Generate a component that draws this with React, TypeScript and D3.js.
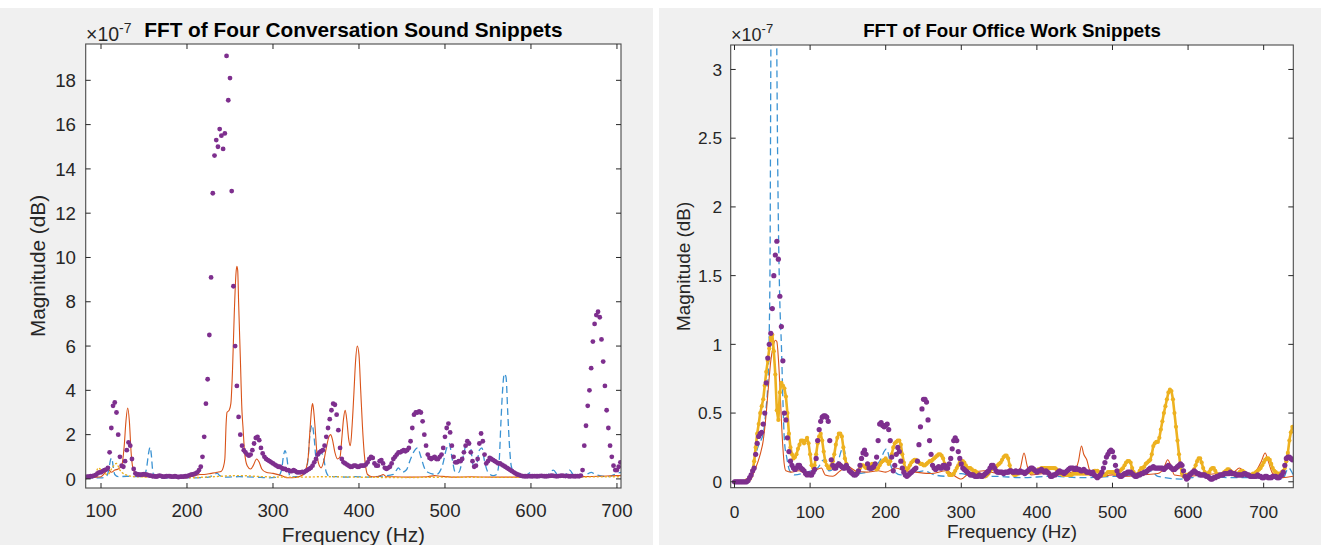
import React from 'react';
import * as d3 from 'd3';

const FONT = '"Liberation Sans", Arial, Helvetica, sans-serif';
const AXIS_COLOR = '#262626';
const BLUE = '#3B93D3';
const ORANGE = '#D95319';
const YELLOW = '#EDB120';
const PURPLE = '#7E2F8E';

type Pt = [number, number];

// ---------- Conversation sound snippets (values ×10^-7) ----------
const convFreqTicks = [100, 200, 300, 400, 500, 600, 700];
const convMagTicks = [0, 2, 4, 6, 8, 10, 12, 14, 16, 18];

const convBlue: Pt[] = [
  [82, 0.05], [100, 0.05], [106, 0.1], [109, 0.4], [111, 0.85], [112.5, 0.95], [114, 0.6], [116, 0.2],
  [120, 0.1], [130, 0.12], [140, 0.1], [150, 0.12], [153, 0.5], [155.5, 1.2], [157, 1.43], [158.5, 1.1],
  [160, 0.4], [162, 0.12], [170, 0.05], [190, 0.06], [210, 0.05], [225, 0.08], [232, 0.2], [235, 0.26],
  [238, 0.15], [245, 0.08], [260, 0.1], [280, 0.08], [295, 0.05], [305, 0.08], [310, 0.4], [312, 1.0],
  [314, 1.28], [316, 1.0], [318, 0.4], [320, 0.1], [330, 0.1], [338, 0.3], [341, 1.0], [343, 2.0],
  [345.5, 2.45], [348, 1.8], [350, 1.0], [353, 1.0], [356, 1.2], [359, 0.9], [362, 0.3], [366, 0.1],
  [375, 0.1], [385, 0.08], [395, 0.1], [410, 0.08], [425, 0.12], [440, 0.2], [446, 0.5], [450, 0.3],
  [455, 0.4], [460, 0.9], [465, 1.3], [468, 1.4], [472, 1.0], [476, 0.5], [480, 0.3], [490, 0.2],
  [497, 0.6], [502, 1.4], [505, 1.6], [508, 1.0], [512, 0.3], [516, 0.3], [520, 0.8], [524, 1.5],
  [527, 1.75], [530, 1.4], [533, 0.6], [537, 0.7], [540, 1.3], [543, 1.4], [546, 0.8], [550, 0.3],
  [556, 0.15], [560, 0.2], [563, 0.8], [565, 2.5], [567, 4.0], [569, 4.75], [571, 4.6], [573, 3.0],
  [575, 1.5], [577, 0.6], [580, 0.3], [585, 0.15], [592, 0.1], [600, 0.3], [605, 0.1], [615, 0.1],
  [620, 0.2], [626, 0.4], [632, 0.15], [640, 0.2], [645, 0.4], [650, 0.15], [660, 0.1], [670, 0.3],
  [675, 0.2], [690, 0.1], [700, 0.25], [705, 0.3],
];

const convOrange: Pt[] = [
  [82, 0.05], [95, 0.08], [100, 0.1], [105, 0.3], [108, 0.45], [112, 0.3], [116, 0.4], [120, 0.45],
  [124, 0.6], [127, 1.5], [129, 2.6], [131, 3.2], [133, 2.6], [135, 1.2], [137, 0.5], [140, 0.25],
  [145, 0.15], [150, 0.1], [160, 0.12], [170, 0.1], [180, 0.12], [186, 0.18], [190, 0.12], [200, 0.1],
  [210, 0.15], [215, 0.2], [220, 0.2], [228, 0.25], [235, 0.3], [240, 0.35], [242, 0.5], [244, 0.9],
  [245.5, 2.5], [246.5, 3.0], [249, 3.1], [251, 3.4], [253, 5.0], [255, 7.5], [257, 9.3], [258, 9.6],
  [259, 9.4], [260, 8.0], [262, 5.5], [264, 3.0], [265, 2.4], [267, 1.2], [270, 0.6], [274, 0.45],
  [277, 0.6], [281, 0.9], [284, 0.75], [287, 0.45], [292, 0.3], [300, 0.25], [310, 0.15], [316, 0.05],
  [322, 0.05], [330, 0.1], [335, 0.2], [338, 0.4], [341, 1.0], [343, 2.2], [345, 3.2], [346, 3.4],
  [347, 3.2], [349, 2.3], [351, 1.2], [353, 0.7], [356, 0.5], [359, 0.8], [362, 1.4], [365, 1.9],
  [367, 2.0], [369, 1.8], [372, 1.2], [375, 0.9], [378, 1.0], [380, 1.8], [382, 2.7], [384, 3.1],
  [386, 2.6], [388, 1.8], [390, 1.5], [392, 2.4], [394, 3.8], [396, 5.3], [398, 6.0], [400, 5.6],
  [402, 4.0], [404, 2.4], [406, 1.2], [408, 0.5], [410, 0.2], [415, 0.1], [420, 0.1], [425, 0.15],
  [428, 0.2], [432, 0.1], [440, 0.1], [460, 0.08], [480, 0.1], [488, 0.15], [495, 0.12], [510, 0.08],
  [530, 0.1], [560, 0.08], [600, 0.08], [650, 0.1], [680, 0.12], [700, 0.15], [705, 0.15],
];

const convYellow: Pt[] = [
  [82, 0.05], [92, 0.1], [97, 0.5], [102, 0.3], [108, 0.2], [113, 0.5], [118, 0.7], [122, 0.4],
  [128, 0.2], [140, 0.1], [170, 0.08], [200, 0.05], [230, 0.1], [260, 0.15], [290, 0.1], [330, 0.08],
  [360, 0.1], [400, 0.08], [450, 0.06], [500, 0.08], [560, 0.07], [620, 0.08], [705, 0.1],
];

// purple samples every 2 Hz starting at 82 Hz
const convPurpleStart = 82;
const convPurpleStep = 2;
const convPurple = [
  0.08, 0.1, 0.1, 0.12, 0.12, 0.15, 0.18, 0.25, 0.3, 0.3, // 82-100
  0.35, 0.4, 0.42, 0.5, 1.2, 2.3, 3.3, 3.45, 3.0, 2.0, // 102-120
  1.0, 0.6, 0.55, 0.8, 1.3, 1.65, 1.5, 0.9, 0.45, 0.25, // 122-140
  0.2, 0.2, 0.18, 0.2, 0.22, 0.2, 0.18, 0.15, 0.15, 0.12, // 142-160
  0.12, 0.1, 0.12, 0.15, 0.13, 0.1, 0.1, 0.12, 0.13, 0.12, // 162-180
  0.1, 0.1, 0.12, 0.1, 0.08, 0.1, 0.1, 0.1, 0.12, 0.12, // 182-200
  0.15, 0.18, 0.2, 0.22, 0.25, 0.3, 0.4, 0.55, 1.0, 1.9, // 202-220
  3.4, 4.5, 6.5, 9.1, 12.9, 14.6, 15.3, 15.0, 15.8, 15.5, // 222-240
  14.9, 15.6, 19.1, 17.1, 18.1, 13.0, 8.7, 6.0, 4.2, 2.8, // 242-260
  2.0, 1.5, 1.3, 1.2, 1.1, 1.05, 1.1, 1.3, 1.6, 1.85, // 262-280
  1.9, 1.75, 1.4, 1.15, 1.0, 0.9, 0.85, 0.8, 0.75, 0.7, // 282-300
  0.65, 0.6, 0.55, 0.55, 0.5, 0.45, 0.45, 0.4, 0.4, 0.35, // 302-320
  0.35, 0.4, 0.35, 0.3, 0.3, 0.3, 0.32, 0.3, 0.35, 0.4, // 322-340
  0.45, 0.5, 0.6, 0.75, 0.9, 1.1, 1.2, 1.25, 1.3, 1.5, // 342-360
  1.9, 2.3, 2.7, 3.1, 3.4, 3.35, 2.9, 2.2, 1.4, 0.9, // 362-380
  0.75, 0.7, 0.65, 0.6, 0.55, 0.55, 0.6, 0.6, 0.55, 0.55, // 382-400
  0.6, 0.6, 0.6, 0.65, 0.75, 0.9, 1.0, 0.95, 0.7, 0.6, // 402-420
  0.6, 0.8, 0.85, 0.7, 0.5, 0.45, 0.5, 0.55, 0.7, 0.9, // 422-440
  1.0, 1.1, 1.2, 1.2, 1.25, 1.3, 1.25, 1.3, 1.4, 1.7, // 442-460
  2.3, 2.9, 3.0, 3.0, 3.05, 3.0, 2.6, 2.0, 1.5, 1.1, // 462-480
  0.95, 0.9, 0.95, 1.0, 0.9, 0.9, 1.0, 1.1, 1.4, 1.9, // 482-500
  2.3, 2.5, 2.1, 1.5, 1.0, 0.75, 0.75, 0.8, 0.8, 0.9, // 502-520
  1.2, 1.5, 1.7, 1.6, 1.2, 0.8, 0.55, 0.6, 0.9, 1.6, // 522-540
  2.05, 1.7, 1.1, 0.7, 0.8, 0.95, 0.9, 0.85, 0.8, 0.75, // 542-560
  0.7, 0.7, 0.65, 0.6, 0.55, 0.5, 0.45, 0.4, 0.35, 0.3, // 562-580
  0.25, 0.2, 0.18, 0.15, 0.13, 0.12, 0.12, 0.12, 0.13, 0.12, // 582-600
  0.12, 0.13, 0.12, 0.12, 0.13, 0.14, 0.13, 0.12, 0.12, 0.13, // 602-620
  0.14, 0.15, 0.14, 0.13, 0.12, 0.13, 0.14, 0.15, 0.14, 0.13, // 622-640
  0.14, 0.12, 0.12, 0.13, 0.12, 0.12, 0.13, 0.12, 0.15, 0.4, // 642-660
  1.5, 2.4, 3.3, 4.0, 5.0, 6.2, 7.0, 7.4, 7.55, 7.3, // 662-680
  6.3, 5.3, 4.2, 3.1, 2.3, 1.5, 1.0, 0.6, 0.4, 0.4, // 682-700
  0.55, 0.75, // 702-704
];

// ---------- Office work snippets (values ×10^-7) ----------
const officeFreqTicks = [0, 100, 200, 300, 400, 500, 600, 700];
const officeMagTicks = [0, 0.5, 1, 1.5, 2, 2.5, 3];

const officeBlue: Pt[] = [
  [0, 0], [15, 0.01], [22, 0.05], [28, 0.2], [32, 0.27], [38, 0.35], [42, 0.55], [44, 0.7],
  [46, 1.1], [47, 1.6], [48, 3.0], [49, 4.2], [51, 5.0], [53, 5.0], [55, 4.0], [56, 3.1],
  [57, 2.4], [58, 1.9], [60, 1.3], [62, 1.0], [64, 0.6], [66, 0.3], [69, 0.18], [73, 0.08],
  [80, 0.05], [95, 0.07], [110, 0.1], [118, 0.16], [125, 0.08], [135, 0.12], [144, 0.25], [150, 0.1],
  [165, 0.06], [180, 0.08], [192, 0.15], [201, 0.24], [208, 0.1], [220, 0.05], [235, 0.06], [250, 0.08],
  [265, 0.05], [280, 0.04], [300, 0.06], [320, 0.03], [345, 0.04], [380, 0.03], [420, 0.04], [460, 0.03],
  [500, 0.04], [530, 0.05], [550, 0.08], [560, 0.04], [590, 0.02], [620, 0.04], [660, 0.03], [700, 0.03],
  [725, 0.02], [733, 0.1], [739, 0.05],
];

const officeOrange: Pt[] = [
  [0, 0], [15, 0.01], [22, 0.03], [28, 0.1], [34, 0.2], [38, 0.3], [42, 0.5], [45, 0.7],
  [48, 0.88], [51, 0.98], [54, 1.03], [56, 1.02], [58, 0.9], [60, 0.7], [62, 0.45], [64, 0.25],
  [66, 0.12], [68, 0.08], [75, 0.07], [85, 0.08], [95, 0.06], [105, 0.08], [115, 0.1], [120, 0.05],
  [130, 0.04], [140, 0.08], [150, 0.11], [160, 0.08], [175, 0.07], [190, 0.08], [200, 0.07], [213, 0.1],
  [225, 0.08], [240, 0.07], [260, 0.06], [280, 0.08], [295, 0.03], [300, 0.02], [310, 0.06], [330, 0.08],
  [350, 0.06], [370, 0.06], [378, 0.1], [383, 0.21], [387, 0.12], [392, 0.05], [410, 0.06], [430, 0.05],
  [450, 0.08], [455, 0.15], [459, 0.26], [462, 0.2], [466, 0.16], [470, 0.08], [480, 0.03], [500, 0.05],
  [520, 0.04], [540, 0.05], [560, 0.06], [568, 0.1], [573, 0.16], [577, 0.12], [582, 0.05], [600, 0.04],
  [620, 0.05], [640, 0.06], [660, 0.07], [668, 0.1], [673, 0.08], [680, 0.05], [690, 0.08], [697, 0.15],
  [702, 0.21], [706, 0.15], [712, 0.06], [725, 0.03], [739, 0.04],
];

// yellow and purple samples every 2 Hz starting at 0 Hz
const officeSampleStart = 0;
const officeSampleStep = 2;
const officeYellow = [
  0, 0, 0, 0, 0, 0, 0, 0, 0.01, 0.01, // 0-18
  0.02, 0.04, 0.08, 0.15, 0.25, 0.35, 0.42, 0.5, 0.55, 0.6, // 20-38
  0.7, 0.8, 0.88, 0.97, 1.05, 1.07, 0.95, 0.78, 0.52, 0.45, // 40-58
  0.65, 0.72, 0.7, 0.68, 0.62, 0.5, 0.35, 0.25, 0.2, 0.17, // 60-78
  0.18, 0.2, 0.24, 0.27, 0.3, 0.3, 0.28, 0.3, 0.32, 0.28, // 80-98
  0.2, 0.12, 0.1, 0.12, 0.2, 0.28, 0.33, 0.35, 0.3, 0.22, // 100-118
  0.15, 0.12, 0.1, 0.1, 0.12, 0.15, 0.2, 0.27, 0.32, 0.35, // 120-138
  0.35, 0.33, 0.25, 0.17, 0.13, 0.1, 0.08, 0.07, 0.06, 0.06, // 140-158
  0.06, 0.07, 0.08, 0.1, 0.12, 0.12, 0.11, 0.1, 0.1, 0.11, // 160-178
  0.12, 0.13, 0.12, 0.1, 0.09, 0.1, 0.12, 0.14, 0.15, 0.16, // 180-198
  0.17, 0.15, 0.13, 0.15, 0.2, 0.25, 0.28, 0.29, 0.3, 0.3, // 200-218
  0.27, 0.2, 0.14, 0.1, 0.09, 0.1, 0.12, 0.14, 0.15, 0.16, // 220-238
  0.16, 0.15, 0.14, 0.13, 0.13, 0.12, 0.12, 0.13, 0.14, 0.15, // 240-258
  0.15, 0.16, 0.17, 0.18, 0.19, 0.2, 0.2, 0.19, 0.17, 0.13, // 260-278
  0.1, 0.07, 0.05, 0.05, 0.05, 0.06, 0.08, 0.1, 0.12, 0.14, // 280-298
  0.15, 0.15, 0.14, 0.12, 0.1, 0.1, 0.1, 0.09, 0.08, 0.08, // 300-318
  0.07, 0.06, 0.05, 0.05, 0.04, 0.04, 0.04, 0.05, 0.06, 0.08, // 320-338
  0.09, 0.1, 0.1, 0.11, 0.12, 0.13, 0.14, 0.16, 0.18, 0.19, // 340-358
  0.19, 0.17, 0.12, 0.08, 0.06, 0.05, 0.05, 0.06, 0.06, 0.07, // 360-378
  0.07, 0.07, 0.07, 0.07, 0.07, 0.07, 0.07, 0.07, 0.08, 0.08, // 380-398
  0.08, 0.09, 0.09, 0.1, 0.1, 0.1, 0.1, 0.1, 0.1, 0.1, // 400-418
  0.1, 0.1, 0.1, 0.09, 0.08, 0.07, 0.06, 0.05, 0.05, 0.05, // 420-438
  0.05, 0.05, 0.05, 0.05, 0.06, 0.06, 0.06, 0.06, 0.06, 0.06, // 440-458
  0.06, 0.06, 0.06, 0.06, 0.06, 0.06, 0.07, 0.07, 0.08, 0.08, // 460-478
  0.08, 0.07, 0.06, 0.05, 0.05, 0.05, 0.06, 0.07, 0.07, 0.07, // 480-498
  0.07, 0.07, 0.06, 0.06, 0.07, 0.08, 0.09, 0.1, 0.12, 0.14, // 500-518
  0.15, 0.15, 0.14, 0.1, 0.07, 0.05, 0.05, 0.06, 0.08, 0.1, // 520-538
  0.1, 0.11, 0.13, 0.14, 0.15, 0.16, 0.2, 0.26, 0.28, 0.29, // 540-558
  0.29, 0.32, 0.38, 0.44, 0.5, 0.55, 0.6, 0.65, 0.67, 0.66, // 560-578
  0.6, 0.5, 0.4, 0.3, 0.2, 0.11, 0.06, 0.04, 0.04, 0.05, // 580-598
  0.05, 0.06, 0.06, 0.07, 0.09, 0.12, 0.15, 0.17, 0.17, 0.14, // 600-618
  0.1, 0.07, 0.06, 0.06, 0.07, 0.09, 0.1, 0.1, 0.08, 0.06, // 620-638
  0.05, 0.05, 0.05, 0.06, 0.07, 0.08, 0.09, 0.09, 0.08, 0.07, // 640-658
  0.06, 0.05, 0.05, 0.06, 0.07, 0.08, 0.08, 0.07, 0.06, 0.05, // 660-678
  0.05, 0.05, 0.05, 0.06, 0.06, 0.07, 0.08, 0.09, 0.1, 0.12, // 680-698
  0.14, 0.16, 0.17, 0.17, 0.16, 0.13, 0.1, 0.08, 0.07, 0.06, // 700-718
  0.06, 0.06, 0.07, 0.08, 0.1, 0.15, 0.21, 0.3, 0.36, 0.4, // 720-738
];

const officePurple = [
  0, 0, 0, 0, 0, 0, 0, 0, 0, 0.01, // 0-18
  0.03, 0.05, 0.08, 0.1, 0.2, 0.28, 0.33, 0.35, 0.36, 0.42, // 20-38
  0.5, 0.72, 0.9, 1.0, 1.08, 1.26, 1.5, 1.65, 1.75, 1.62, // 40-58
  1.35, 1.13, 0.88, 0.5, 0.45, 0.32, 0.22, 0.15, 0.12, 0.1, // 60-78
  0.09, 0.1, 0.12, 0.12, 0.1, 0.09, 0.08, 0.06, 0.05, 0.06, // 80-98
  0.05, 0.05, 0.07, 0.09, 0.17, 0.3, 0.38, 0.44, 0.47, 0.48, // 100-118
  0.48, 0.47, 0.44, 0.3, 0.16, 0.12, 0.1, 0.1, 0.12, 0.13, // 120-138
  0.12, 0.11, 0.1, 0.1, 0.12, 0.1, 0.08, 0.07, 0.06, 0.05, // 140-158
  0.05, 0.06, 0.08, 0.12, 0.17, 0.21, 0.23, 0.2, 0.13, 0.1, // 160-178
  0.1, 0.1, 0.11, 0.13, 0.18, 0.3, 0.42, 0.43, 0.41, 0.4, // 180-198
  0.41, 0.42, 0.38, 0.3, 0.18, 0.08, 0.12, 0.2, 0.25, 0.22, // 200-218
  0.15, 0.1, 0.07, 0.05, 0.04, 0.05, 0.06, 0.07, 0.08, 0.09, // 220-238
  0.1, 0.15, 0.27, 0.4, 0.53, 0.6, 0.6, 0.58, 0.45, 0.3, // 240-258
  0.2, 0.12, 0.1, 0.09, 0.1, 0.11, 0.1, 0.1, 0.12, 0.12, // 260-278
  0.1, 0.1, 0.13, 0.17, 0.24, 0.3, 0.32, 0.3, 0.22, 0.17, // 280-298
  0.13, 0.1, 0.09, 0.08, 0.07, 0.06, 0.05, 0.05, 0.05, 0.04, // 300-318
  0.04, 0.04, 0.05, 0.04, 0.04, 0.05, 0.06, 0.07, 0.08, 0.1, // 320-338
  0.12, 0.12, 0.1, 0.08, 0.07, 0.07, 0.07, 0.07, 0.06, 0.07, // 340-358
  0.07, 0.07, 0.08, 0.08, 0.07, 0.07, 0.08, 0.07, 0.07, 0.08, // 360-378
  0.07, 0.07, 0.06, 0.07, 0.08, 0.09, 0.1, 0.1, 0.09, 0.08, // 380-398
  0.07, 0.08, 0.08, 0.09, 0.08, 0.07, 0.08, 0.07, 0.06, 0.04, // 400-418
  0.04, 0.05, 0.05, 0.06, 0.07, 0.08, 0.07, 0.07, 0.06, 0.07, // 420-438
  0.08, 0.09, 0.1, 0.1, 0.1, 0.09, 0.1, 0.09, 0.09, 0.08, // 440-458
  0.08, 0.09, 0.08, 0.07, 0.07, 0.07, 0.06, 0.07, 0.05, 0.04, // 460-478
  0.03, 0.04, 0.05, 0.07, 0.1, 0.14, 0.18, 0.2, 0.22, 0.23, // 480-498
  0.22, 0.18, 0.12, 0.08, 0.05, 0.04, 0.04, 0.05, 0.06, 0.06, // 500-518
  0.07, 0.07, 0.07, 0.06, 0.05, 0.04, 0.04, 0.05, 0.05, 0.06, // 520-538
  0.06, 0.07, 0.07, 0.08, 0.09, 0.1, 0.1, 0.11, 0.1, 0.1, // 540-558
  0.1, 0.1, 0.1, 0.1, 0.09, 0.1, 0.11, 0.12, 0.11, 0.1, // 560-578
  0.09, 0.09, 0.1, 0.11, 0.12, 0.13, 0.12, 0.08, 0.04, 0.02, // 580-598
  0.03, 0.05, 0.06, 0.07, 0.08, 0.07, 0.06, 0.06, 0.05, 0.05, // 600-618
  0.05, 0.05, 0.04, 0.04, 0.03, 0.02, 0.02, 0.03, 0.03, 0.04, // 620-638
  0.04, 0.05, 0.05, 0.05, 0.06, 0.06, 0.06, 0.06, 0.07, 0.06, // 640-658
  0.06, 0.06, 0.05, 0.05, 0.05, 0.05, 0.05, 0.06, 0.06, 0.05, // 660-678
  0.05, 0.04, 0.04, 0.04, 0.04, 0.04, 0.05, 0.04, 0.04, 0.03, // 680-698
  0.03, 0.04, 0.04, 0.03, 0.03, 0.03, 0.04, 0.04, 0.04, 0.03, // 700-718
  0.03, 0.04, 0.05, 0.07, 0.12, 0.17, 0.18, 0.18, 0.17, 0.16, // 720-738
];

const sampled = (start: number, step: number, vals: number[]): Pt[] =>
  vals.map((v, i) => [start + i * step, v]);

type Style = {
  tick: number;
  label: number;
  title: number;
  expo: number;
  expoSup: number;
};

type PanelProps = {
  id: string;
  box: { x0: number; x1: number; y0: number; y1: number };
  xDomain: [number, number];
  yDomain: [number, number];
  xTicks: number[];
  yTicks: number[];
  title: string;
  titleY: number;
  xLabelY: number;
  yLabelX: number;
  xTickY: number;
  yTickX: number;
  expoX: number;
  style: Style;
  blue: Pt[];
  orange: Pt[];
  yellow: Pt[];
  yellowDots: boolean;
  purple: Pt[];
  purpleR: number;
};

function Panel(p: PanelProps) {
  const { box, style } = p;
  const x = d3.scaleLinear().domain(p.xDomain).range([box.x0, box.x1]);
  const y = d3.scaleLinear().domain(p.yDomain).range([box.y1, box.y0]);
  const smooth = d3.line<Pt>().x((d) => x(d[0])).y((d) => y(d[1])).curve(d3.curveMonotoneX);
  const straight = d3.line<Pt>().x((d) => x(d[0])).y((d) => y(d[1]));
  const tickLen = 5;
  const cx = (box.x0 + box.x1) / 2;
  const cy = (box.y0 + box.y1) / 2;
  const clipId = `clip-${p.id}`;
  return (
    <g>
      <defs>
        <clipPath id={clipId}>
          <rect x={box.x0} y={box.y0} width={box.x1 - box.x0} height={box.y1 - box.y0} />
        </clipPath>
      </defs>
      <rect x={box.x0} y={box.y0} width={box.x1 - box.x0} height={box.y1 - box.y0} fill="#fff" />
      <g clipPath={`url(#${clipId})`}>
        <path d={smooth(p.blue) || ''} fill="none" stroke={BLUE} strokeWidth={1.3} strokeDasharray="7 4" />
        <path d={smooth(p.orange) || ''} fill="none" stroke={ORANGE} strokeWidth={1.1} />
        {p.yellowDots ? (
          <g>
            <path d={straight(p.yellow) || ''} fill="none" stroke={YELLOW} strokeWidth={2.6} strokeLinejoin="round" />
            {p.yellow.map((d, i) => (
              <circle key={i} cx={x(d[0])} cy={y(d[1])} r={2.1} fill={YELLOW} />
            ))}
          </g>
        ) : (
          <path d={smooth(p.yellow) || ''} fill="none" stroke={YELLOW} strokeWidth={1.4} strokeDasharray="1 3" strokeLinecap="round" />
        )}
        {p.purple.map((d, i) => (
          <circle key={i} cx={x(d[0])} cy={y(d[1])} r={p.purpleR} fill={PURPLE} />
        ))}
      </g>
      {/* box and inward ticks on all four sides */}
      <rect x={box.x0} y={box.y0} width={box.x1 - box.x0} height={box.y1 - box.y0} fill="none" stroke="#4a4a4a" strokeWidth={1.1} />
      {p.xTicks.map((t) => (
        <g key={`xt${t}`}>
          <line x1={x(t)} x2={x(t)} y1={box.y1} y2={box.y1 - tickLen} stroke={AXIS_COLOR} strokeWidth={1} />
          <line x1={x(t)} x2={x(t)} y1={box.y0} y2={box.y0 + tickLen} stroke={AXIS_COLOR} strokeWidth={1} />
          <text x={x(t)} y={p.xTickY} textAnchor="middle" fontSize={style.tick} fill={AXIS_COLOR}>
            {t}
          </text>
        </g>
      ))}
      {p.yTicks.map((t) => (
        <g key={`yt${t}`}>
          <line x1={box.x0} x2={box.x0 + tickLen} y1={y(t)} y2={y(t)} stroke={AXIS_COLOR} strokeWidth={1} />
          <line x1={box.x1} x2={box.x1 - tickLen} y1={y(t)} y2={y(t)} stroke={AXIS_COLOR} strokeWidth={1} />
          <text x={p.yTickX} y={y(t) + style.tick * 0.36} textAnchor="end" fontSize={style.tick} fill={AXIS_COLOR}>
            {t}
          </text>
        </g>
      ))}
      <text x={p.expoX} y={41} fontSize={style.expo} fill={AXIS_COLOR}>
        ×10
        <tspan fontSize={style.expoSup} dy={-8}>
          -7
        </tspan>
      </text>
      <text x={cx} y={p.titleY} textAnchor="middle" fontSize={style.title} fontWeight="bold" fill="#000">
        {p.title}
      </text>
      <text x={cx} y={p.xLabelY} textAnchor="middle" fontSize={style.label} fill={AXIS_COLOR}>
        Frequency (Hz)
      </text>
      <text
        transform={`translate(${p.yLabelX},${cy}) rotate(-90)`}
        textAnchor="middle"
        fontSize={style.label}
        fill={AXIS_COLOR}
      >
        Magnitude (dB)
      </text>
    </g>
  );
}

export default function App() {
  const W = 1321;
  const H = 545;
  return (
    <svg
      width={W}
      height={H}
      viewBox={`0 0 ${W} ${H}`}
      style={{ position: 'absolute', left: 0, top: 0, fontFamily: FONT }}
    >
      <rect x={0} y={0} width={W} height={H} fill="#fff" />
      <rect x={0} y={8} width={653} height={H - 8} fill="#f0f0f0" />
      <rect x={659} y={8} width={W - 659} height={H - 8} fill="#f0f0f0" />
      <Panel
        id="conv"
        box={{ x0: 85.7, x1: 621, y0: 44, y1: 488 }}
        xDomain={[82.2, 704.7]}
        yDomain={[-0.41, 19.64]}
        xTicks={convFreqTicks}
        yTicks={convMagTicks}
        title="FFT of Four Conversation Sound Snippets"
        titleY={37}
        xLabelY={542}
        yLabelX={45}
        xTickY={517}
        yTickX={76}
        expoX={86}
        style={{ tick: 18.7, label: 20.8, title: 20.8, expo: 19.5, expoSup: 14 }}
        blue={convBlue}
        orange={convOrange}
        yellow={convYellow}
        yellowDots={false}
        purple={sampled(convPurpleStart, convPurpleStep, convPurple)}
        purpleR={2.4}
      />
      <Panel
        id="office"
        box={{ x0: 730.7, x1: 1293.3, y0: 45, y1: 487.7 }}
        xDomain={[-5.03, 739.2]}
        yDomain={[-0.043, 3.178]}
        xTicks={officeFreqTicks}
        yTicks={officeMagTicks}
        title="FFT of Four Office Work Snippets"
        titleY={37}
        xLabelY={538}
        yLabelX={690}
        xTickY={518}
        yTickX={722}
        expoX={731}
        style={{ tick: 17.3, label: 18.9, title: 18.7, expo: 18, expoSup: 13 }}
        blue={officeBlue}
        orange={officeOrange}
        yellow={sampled(officeSampleStart, officeSampleStep, officeYellow)}
        yellowDots={true}
        purple={sampled(officeSampleStart, officeSampleStep, officePurple)}
        purpleR={2.6}
      />
    </svg>
  );
}
